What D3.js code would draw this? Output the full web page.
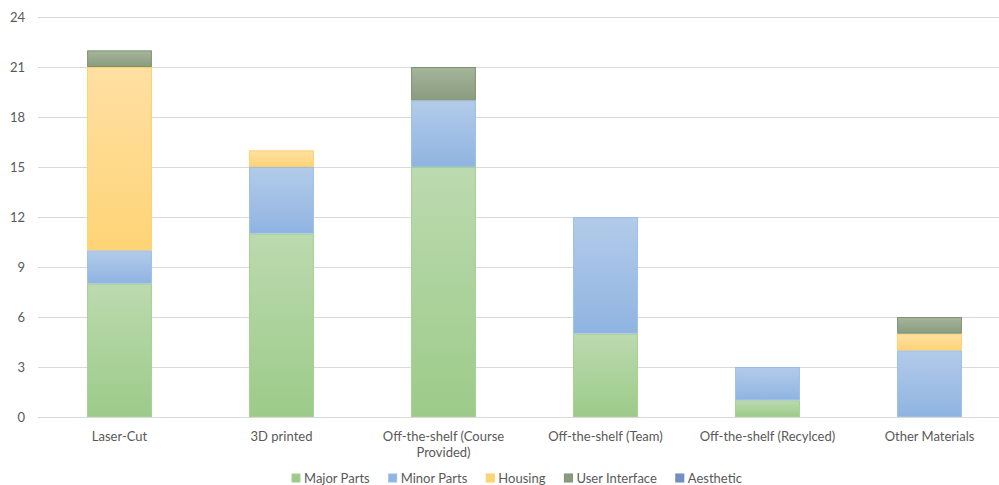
<!DOCTYPE html>
<html><head><meta charset="utf-8">
<script src="https://cdn.jsdelivr.net/npm/d3@7"></script>
<style>body{margin:0;background:#fff}svg{display:block}text{font-family:Lato,"Open Sans",sans-serif;fill:#595959}</style>
</head><body><svg id="c" width="999" height="485"></svg>
<script>
const categories = ["Laser-Cut","3D printed","Off-the-shelf (Course Provided)","Off-the-shelf (Team)","Off-the-shelf (Recylced)","Other Materials"];
const categoryLines = [["Laser-Cut"],["3D printed"],["Off-the-shelf (Course","Provided)"],["Off-the-shelf (Team)"],["Off-the-shelf (Recylced)"],["Other Materials"]];
const seriesNames = ["Major Parts","Minor Parts","Housing","User Interface","Aesthetic"];
const majorParts = [8,11,15,5,1,0];
const minorParts = [2,4,4,7,2,4];
const housing = [11,1,0,0,0,1];
const userInterface = [1,0,2,0,0,1];
const aesthetic = [0,0,0,0,0,0];
const yTicks = [0,3,6,9,12,15,18,21,24];
const colorsTop = ["#bcdaaf","#b3cbea","#ffe0a3","#a5b59b","#8ea5cc"];
const colorsBot = ["#9ccb89","#8fb4e1","#ffd476","#8a9c80","#7490c0"];
const strokes = ["#a3cf90","#9cbde4","#ffd06a","#7e9273","#6f8bbb"];

const allSeries = [majorParts,minorParts,housing,userInterface,aesthetic];
const data = categories.map((c,i)=>{const o={cat:c};seriesNames.forEach((s,j)=>o[s]=allSeries[j][i]);return o;});
const stacked = d3.stack().keys(seriesNames)(data);

const svg = d3.select("#c");
const defs = svg.append("defs");
seriesNames.forEach((s,j)=>{
  const g = defs.append("linearGradient").attr("id","g"+j).attr("x1",0).attr("y1",0).attr("x2",0).attr("y2",1);
  g.append("stop").attr("offset","0%").attr("stop-color",colorsTop[j]);
  g.append("stop").attr("offset","100%").attr("stop-color",colorsBot[j]);
});

const x = d3.scaleBand().domain(categories).range([38.5,1010.5]).paddingInner(0.6).paddingOuter(0.3);
const y = d3.scaleLinear().domain([0,24]).range([417,17]);

svg.append("g").selectAll("line").data(yTicks).join("line")
  .attr("x1",38).attr("x2",999).attr("y1",d=>Math.round(y(d))+0.5).attr("y2",d=>Math.round(y(d))+0.5)
  .attr("stroke","#d9d9d9").attr("stroke-width",1);

svg.append("g").selectAll("text").data(yTicks).join("text")
  .attr("x",25).attr("y",d=>y(d)+4.5).attr("text-anchor","end").attr("font-size",13).text(d=>d);

stacked.forEach((layer,j)=>{
  svg.append("g").selectAll("rect").data(layer.filter(d=>d[1]>d[0])).join("rect")
    .attr("x",d=>x(d.data.cat)+0.5).attr("width",x.bandwidth()-1)
    .attr("y",d=>y(d[1])+0.5).attr("height",d=>y(d[0])-y(d[1])-1)
    .attr("fill","url(#g"+j+")").attr("stroke",strokes[j]).attr("stroke-width",1);
});

const xl = svg.append("g").selectAll("text").data(categories).join("text")
  .attr("x",d=>x(d)+x.bandwidth()/2).attr("y",441).attr("text-anchor","middle").attr("font-size",13);
xl.each(function(d,i){
  const t=d3.select(this);
  categoryLines[i].forEach((l,k)=>t.append("tspan").attr("x",x(d)+x.bandwidth()/2).attr("dy",k?16:0).text(l));
});

const leg = svg.append("g");
let lx = 292;
seriesNames.forEach((s,j)=>{
  leg.append("rect").attr("x",lx).attr("y",474).attr("width",8).attr("height",8).attr("fill",colorsBot[j]).attr("stroke",strokes[j]);
  const t = leg.append("text").attr("x",lx+12).attr("y",483).attr("font-size",13).text(s);
  lx += 12 + t.node().getComputedTextLength() + 19;
});
</script></body></html>
